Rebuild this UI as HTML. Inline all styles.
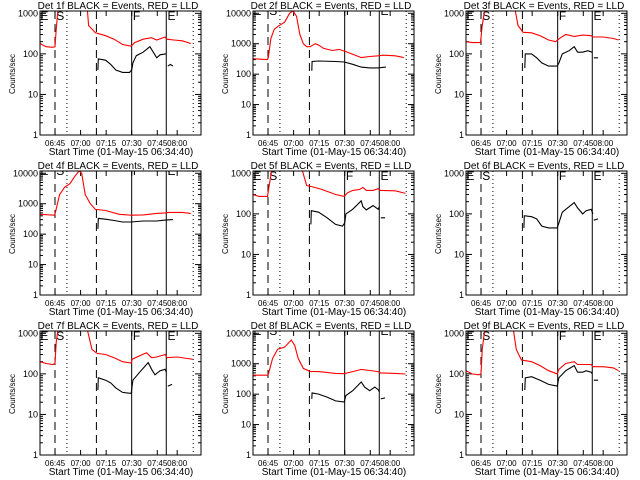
<!DOCTYPE html>
<html><head><meta charset="utf-8">
<style>
html,body{margin:0;padding:0;background:#fff;}
svg{display:block;font-family:"Liberation Sans",sans-serif;}
</style></head>
<body>
<svg id="chart" width="640" height="480" viewBox="0 0 640 480" xmlns="http://www.w3.org/2000/svg">
<rect x="0" y="0" width="640" height="480" fill="#fff"/>
</svg>
<script>
// ---- data (time in minutes after 06:34:40) ----
const detNames = ["1f","2f","3f","4f","5f","6f","7f","8f","9f"];
const yMaxLog = [3.057,4.075,3.057,4.075,3.057,3.057,3.057,4.075,3.057];
const tickLabels = ["06:45","07:00","07:15","07:30","07:45","08:00"];
const tickTimes = [10.33,25.33,40.33,55.33,70.33,82.0];
const markerTimes = [10.3,17.3,34.6,55.3,75.6,91.4];
const markerStyles = ["dashed","dotted","dashed","solid","solid","dotted"];
const letterTimes = [1.7,11.0,56.0,76.3];
const letterText = ["E","S","F","E"];

const red1T=[1.5,5,9,10.3,11,12,null,29.3,30,34,40,45,50,55,57,62,67,70,75,76,80,85,90];
const red1V=[180,150,145,150,400,1200,null,1200,500,330,280,230,170,155,190,230,250,220,260,230,220,210,180];
const blk1T=[35.5,35.7,40,43,46,50,54,55.3,56,58,62,66,68,70,72,75,75.6,null,76.5,78,79.5];
const blk1V=[40,75,70,55,40,35,35,40,60,90,110,150,110,80,95,100,100,null,50,55,50];

const red2T=[1.5,10,10.5,12,14,17,20,23,25,27,29,31,33,35,38,40,43,48,52,56,60,65,70,75,78,85,90];
const red2V=[320,300,350,1500,3000,4000,5000,10000,12000,8000,2000,1000,800,800,1000,900,700,600,650,550,450,350,380,400,420,400,350];
const blk2T=[36,36.2,40,50,55,60,65,70,75,79.5];
const blk2V=[130,260,270,260,250,210,170,160,160,170];

const red3T=[1.5,5,10,11,12.5,null,30.4,32,35,40,45,50,54,57,60,65,70,75,76,82,88,91];
const red3V=[200,190,190,500,1200,null,1200,500,340,330,280,220,200,250,300,270,290,280,260,260,240,220];
const blk3T=[36,36.3,40,43,46,50,55,56,58,62,65,67,70,73,75.5,null,76.5,79];
const blk3V=[45,100,100,80,60,50,50,60,100,120,150,110,110,120,110,null,80,80];

const red4T=[1.5,10,10.5,13,16,19,22,24.5,26,28,31,34,40,48,55,62,70,75,77,85,90];
const red4V=[450,420,500,2000,3500,4500,8000,12000,10000,2000,1000,650,600,450,420,430,480,500,520,520,480];
const blk4T=[35.5,35.7,40,45,50,55,62,70,75,79.5];
const blk4V=[150,330,310,280,250,250,270,270,290,300];

const red5T=[1.5,5,10,11,12.5,null,30.4,33,36,42,50,55,57,60,64,66,68,72,75,76,85,91];
const red5V=[300,270,270,500,1200,null,1200,500,470,400,300,270,330,380,400,450,380,380,420,380,370,320];
const blk5T=[35.5,35.7,40,45,50,54,55.3,56,60,65,66,68,72,75,75.6,null,76.5,79];
const blk5V=[55,120,110,80,55,50,60,100,130,210,150,125,160,130,150,null,80,80];

const red6T=[];
const red6V=[];
const blk6T=[35.5,35.7,40,43,46,50,55,56,58,62,65,67,70,72,75,76,null,76.5,79];
const blk6V=[45,90,85,75,50,45,45,60,110,150,190,140,100,120,130,100,null,70,75];

const red7T=[1.5,5,9,10.3,11,12,null,29.3,32,35,40,45,50,55,55.6,60,64,67,70,75,76,82,88,91];
const red7V=[200,180,170,180,600,1200,null,1200,400,320,300,250,200,185,230,280,330,250,260,300,250,260,240,230];
const blk7T=[35.5,35.7,40,43,46,50,55,56,60,65,67,69,72,75,75.6,null,76.5,79];
const blk7V=[40,80,70,60,45,35,33,70,110,190,130,95,120,130,110,null,50,55];

const red8T=[1.5,10,10.5,13,16,20,24,26,28,31,35,40,50,55,60,65,70,75,76,85,91];
const red8V=[420,420,450,1500,3000,3500,6000,4000,1500,700,560,550,480,470,550,650,600,550,500,480,460];
const blk8T=[36,36.2,40,45,50,55,56,60,65,67,70,73,75,75.6,null,76.5,79];
const blk8V=[70,110,100,80,60,55,90,130,250,170,130,170,140,120,null,70,75];

const red9T=[1.5,5,9,10.3,11,12.5,null,29.3,31,34,40,45,50,55,56,60,65,67,72,75,76,82,88,91];
const red9V=[120,100,95,100,400,1200,null,1200,400,220,200,160,120,100,130,180,200,170,170,170,150,150,140,120];
const blk9T=[36,36.3,40,45,50,55,56,60,65,67,70,72,75,75.6,null,76.5,79];
const blk9V=[40,80,85,70,55,50,80,120,160,110,110,120,110,100,null,70,70];

const redT=[red1T,red2T,red3T,red4T,red5T,red6T,red7T,red8T,red9T];
const redV=[red1V,red2V,red3V,red4V,red5V,red6V,red7V,red8V,red9V];
const blkT=[blk1T,blk2T,blk3T,blk4T,blk5T,blk6T,blk7T,blk8T,blk9T];
const blkV=[blk1V,blk2V,blk3V,blk4V,blk5V,blk6V,blk7V,blk8V,blk9V];

// ---- drawing ----
const NS="http://www.w3.org/2000/svg";
const svg=document.getElementById('chart');
const L=40,R=201,T=11,B=135,T0=1.5,PXM=1.704;
function mk(tag,attrs,parent){const e=document.createElementNS(NS,tag);for(const k in attrs)e.setAttribute(k,attrs[k]);(parent||svg).appendChild(e);return e;}

for(let p=0;p<9;p++){
  const ox=(p%3)*213, oy=Math.floor(p/3)*160;
  const ymax=yMaxLog[p];
  const xs=t=>ox+L+(t-T0)*PXM;
  const ys=v=>oy+B-(Math.log10(v)/ymax)*(B-T);
  const g=mk('g',{});
  
  
  const clip=mk('clipPath',{id:'c'+p},g);
  mk('rect',{x:ox+L,y:oy+T,width:R-L,height:B-T},clip);

  const title=mk('text',{x:ox+118,y:oy+9,'font-size':10,'text-anchor':'middle',fill:'#000'},g);
  title.textContent='Det '+detNames[p]+' BLACK = Events, RED = LLD';
  
  

  const xl=mk('text',{x:ox+121,y:oy+155,'font-size':10,'text-anchor':'middle',fill:'#000'},g);
  xl.textContent='Start Time (01-May-15 06:34:40)';
  
  

  const yl=mk('text',{x:0,y:0,'font-size':8,'text-anchor':'middle',fill:'#000',transform:'translate('+(ox+15)+','+(oy+74)+') rotate(-90)'},g);
  yl.textContent='Counts/sec';
  
  

  const maxDec=Math.floor(ymax);
  for(let d=0;d<=maxDec;d++){
    const y=ys(Math.pow(10,d));
    mk('line',{x1:ox+L,x2:ox+L+6,y1:y,y2:y,stroke:'#000'},g);
    mk('line',{x1:ox+R,x2:ox+R-6,y1:y,y2:y,stroke:'#000'},g);
    const tl=mk('text',{x:ox+L-2,y:y+3,'font-size':9,'text-anchor':'end',fill:'#000'},g);
    tl.textContent=String(Math.pow(10,d));
    
    
    for(let m=2;m<=9;m++){
      const v=m*Math.pow(10,d); if(Math.log10(v)>ymax) break;
      const ym=ys(v);
      mk('line',{x1:ox+L,x2:ox+L+3,y1:ym,y2:ym,stroke:'#000'},g);
      mk('line',{x1:ox+R,x2:ox+R-3,y1:ym,y2:ym,stroke:'#000'},g);
    }
  }
  for(let i=0;i<tickTimes.length;i++){
    const x=xs(tickTimes[i]);
    mk('line',{x1:x,x2:x,y1:oy+B,y2:oy+B-5,stroke:'#000'},g);
    mk('line',{x1:x,x2:x,y1:oy+T,y2:oy+T+5,stroke:'#000'},g);
    const tl=mk('text',{x:x,y:oy+146,'font-size':8,'text-anchor':'middle',fill:'#000'},g);
    tl.textContent=tickLabels[i];
    
    
  }
  for(let i=0;i<markerTimes.length;i++){
    const x=xs(markerTimes[i]);
    const a={x1:x,x2:x,y1:oy+T,y2:oy+B,stroke:'#000','stroke-width':1};
    if(markerStyles[i]==='dashed')a['stroke-dasharray']='8,5';
    if(markerStyles[i]==='dotted')a['stroke-dasharray']='1,3';
    const ln=mk('line',a,g);
    
    
  }
  const lg=mk('g',{'clip-path':'url(#c'+p+')'},g);
  for(let i=0;i<letterTimes.length;i++){
    const lt=mk('text',{x:xs(letterTimes[i]),y:oy+(ymax>4?15:20),'font-size':12,'text-anchor':'start',fill:'#000'},lg);
    lt.textContent=letterText[i];
    
    
  }
  function series(ts,vs,color,name){
    let d='',pen=false;
    for(let i=0;i<ts.length;i++){
      if(ts[i]===null||vs[i]===null){pen=false;continue;}
      d+=(pen?'L':'M')+xs(ts[i]).toFixed(1)+' '+ys(vs[i]).toFixed(1)+' ';pen=true;
    }
    if(!d)return;
    const pth=mk('path',{d:d,fill:'none',stroke:color,'stroke-width':1.1,'clip-path':'url(#c'+p+')'},g);
    
    
  }
  series(redT[p],redV[p],'#ff0000','lld-series-red');
  series(blkT[p],blkV[p],'#000000','events-series-black');
  const fr=mk('rect',{x:ox+L,y:oy+T,width:R-L,height:B-T,fill:'none',stroke:'#000','stroke-width':1},g);
  
  
}
</script>
</body></html>
